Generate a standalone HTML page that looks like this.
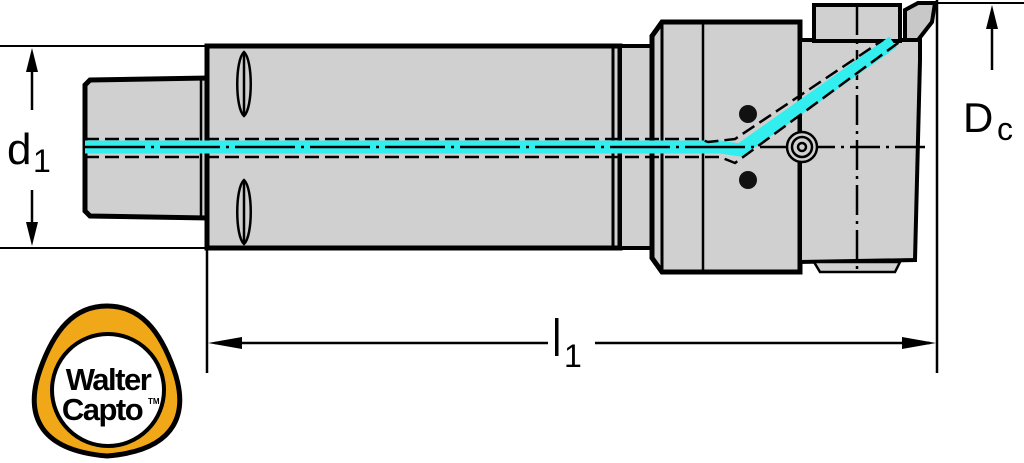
<!DOCTYPE html>
<html><head><meta charset="utf-8"><style>
html,body{margin:0;padding:0;background:#fff;width:1024px;height:463px;overflow:hidden}
svg{display:block}
text{font-family:"Liberation Sans",sans-serif;fill:#000}
</style></head><body>
<svg width="1024" height="463" viewBox="0 0 1024 463" xmlns="http://www.w3.org/2000/svg">
<!-- extension lines -->
<line x1="0" y1="46" x2="207" y2="46" stroke="#000" stroke-width="2"/>
<line x1="0" y1="248" x2="207" y2="248" stroke="#000" stroke-width="2"/>
<line x1="937" y1="3" x2="1024" y2="3" stroke="#000" stroke-width="2"/>
<line x1="937" y1="0" x2="937" y2="373" stroke="#000" stroke-width="2.5"/>
<line x1="207" y1="248" x2="207" y2="373" stroke="#000" stroke-width="2.5"/>

<!-- spigot -->
<path d="M90,80 L207,78 L207,218 L90,216 L85,211 L85,85 Z" fill="#d0d0d0" stroke="#000" stroke-width="5"/>
<line x1="201" y1="80" x2="201" y2="216" stroke="#000" stroke-width="2.5"/>
<!-- shank -->
<rect x="207" y="46" width="413" height="202" fill="#d0d0d0" stroke="#000" stroke-width="5"/>
<line x1="613" y1="46" x2="613" y2="248" stroke="#000" stroke-width="3"/>
<!-- slots -->
<path d="M244,52 C235,60 235,108 244,116 C253,108 253,60 244,52 Z" fill="none" stroke="#000" stroke-width="2.5"/>
<line x1="244" y1="53" x2="244" y2="115" stroke="#000" stroke-width="2.5"/>
<path d="M244,180 C235,188 235,236 244,244 C253,236 253,188 244,180 Z" fill="none" stroke="#000" stroke-width="2.5"/>
<line x1="244" y1="181" x2="244" y2="243" stroke="#000" stroke-width="2.5"/>
<!-- step -->
<rect x="620" y="46" width="32" height="202" fill="#d0d0d0" stroke="#000" stroke-width="4"/>
<!-- body -->
<path d="M662,22 L800,22 L800,272 L662,272 L652,258 L652,36 Z" fill="#d0d0d0" stroke="#000" stroke-width="5"/>
<line x1="662" y1="24" x2="662" y2="270" stroke="#000" stroke-width="3"/>
<line x1="703" y1="24" x2="703" y2="270" stroke="#000" stroke-width="2.5"/>
<!-- head -->
<path d="M800,40 L920,40 L920,60 L915,260 L800,262 Z" fill="#d0d0d0" stroke="#000" stroke-width="4"/>
<rect x="814" y="5" width="86" height="36" fill="#d0d0d0" stroke="#000" stroke-width="4"/>
<path d="M814,262 L900,262 L895,272 L820,272 Z" fill="#d0d0d0" stroke="#000" stroke-width="2.5"/>
<path d="M905,10 L918,3 L935,3 L932,22 L918,40 L905,40 Z" fill="#c8c8c8" stroke="#000" stroke-width="4"/>
<!-- centerlines -->
<line x1="857" y1="5" x2="857" y2="275" stroke="#000" stroke-width="2.5" stroke-dasharray="30,6,3,6"/>
<line x1="760" y1="147" x2="930" y2="147" stroke="#000" stroke-width="2.5" stroke-dasharray="30,6,3,6"/>
<!-- screws -->
<circle cx="748" cy="114" r="9" fill="#111"/>
<circle cx="748" cy="180" r="9" fill="#111"/>
<circle cx="802" cy="147" r="15" fill="#d0d0d0" stroke="#000" stroke-width="2.5"/>
<circle cx="802" cy="147" r="10" fill="none" stroke="#000" stroke-width="2.5"/>
<circle cx="802" cy="147" r="4" fill="none" stroke="#000" stroke-width="2.5"/>
<!-- coolant -->
<path d="M85,147 L720,147 L740,150 L893,42" fill="none" stroke="#33eeee" stroke-width="13" stroke-linejoin="round"/>
<path d="M85,139 L700,139 L708,142 L735,139 L883,40" fill="none" stroke="#000" stroke-width="2.5" stroke-dasharray="14,6"/>
<path d="M85,157 L720,157 L735,163 L902,40" fill="none" stroke="#000" stroke-width="2.5" stroke-dasharray="14,6"/>
<line x1="85" y1="147" x2="760" y2="147" stroke="#000" stroke-width="2.5" stroke-dasharray="60,6,3,6"/>

<!-- d1 dimension -->
<line x1="32" y1="60" x2="32" y2="110" stroke="#000" stroke-width="2.5"/>
<polygon points="32,48 26,72 38,72" fill="#000"/>
<line x1="32" y1="190" x2="32" y2="236" stroke="#000" stroke-width="2.5"/>
<polygon points="32,246 26,222 38,222" fill="#000"/>
<text x="7" y="164" font-size="44">d</text><text x="33" y="172" font-size="32">1</text>

<!-- Dc -->
<line x1="992" y1="15" x2="992" y2="70" stroke="#000" stroke-width="2.5"/>
<polygon points="992,5 986,29 998,29" fill="#000"/>
<text x="963" y="132" font-size="42">D</text><text x="997" y="140" font-size="32">c</text>

<!-- l1 -->
<line x1="215" y1="343" x2="548" y2="343" stroke="#000" stroke-width="2.5"/>
<line x1="595" y1="343" x2="930" y2="343" stroke="#000" stroke-width="2.5"/>
<polygon points="208,343 242,337 242,349" fill="#000"/>
<polygon points="936,343 902,337 902,349" fill="#000"/>
<rect x="555" y="318" width="3.5" height="38" fill="#000"/>
<text x="564" y="367" font-size="32">1</text>

<!-- logo -->
<path d="M107,306 C140,306 160,330 174,370 C188,410 180,450 107,456 C34,450 26,410 40,370 C54,330 74,306 107,306 Z" fill="#f0a818" stroke="#000" stroke-width="5"/>
<circle cx="108" cy="390" r="56" fill="#fff" stroke="#000" stroke-width="4"/>
<text x="108" y="390" font-size="31" text-anchor="middle" font-weight="bold" letter-spacing="-1.5">Walter</text>
<text x="102" y="420" font-size="31" text-anchor="middle" font-weight="bold" letter-spacing="-1.5">Capto</text>
<text x="148" y="404" font-size="8" font-weight="bold">TM</text>
</svg>
</body></html>
